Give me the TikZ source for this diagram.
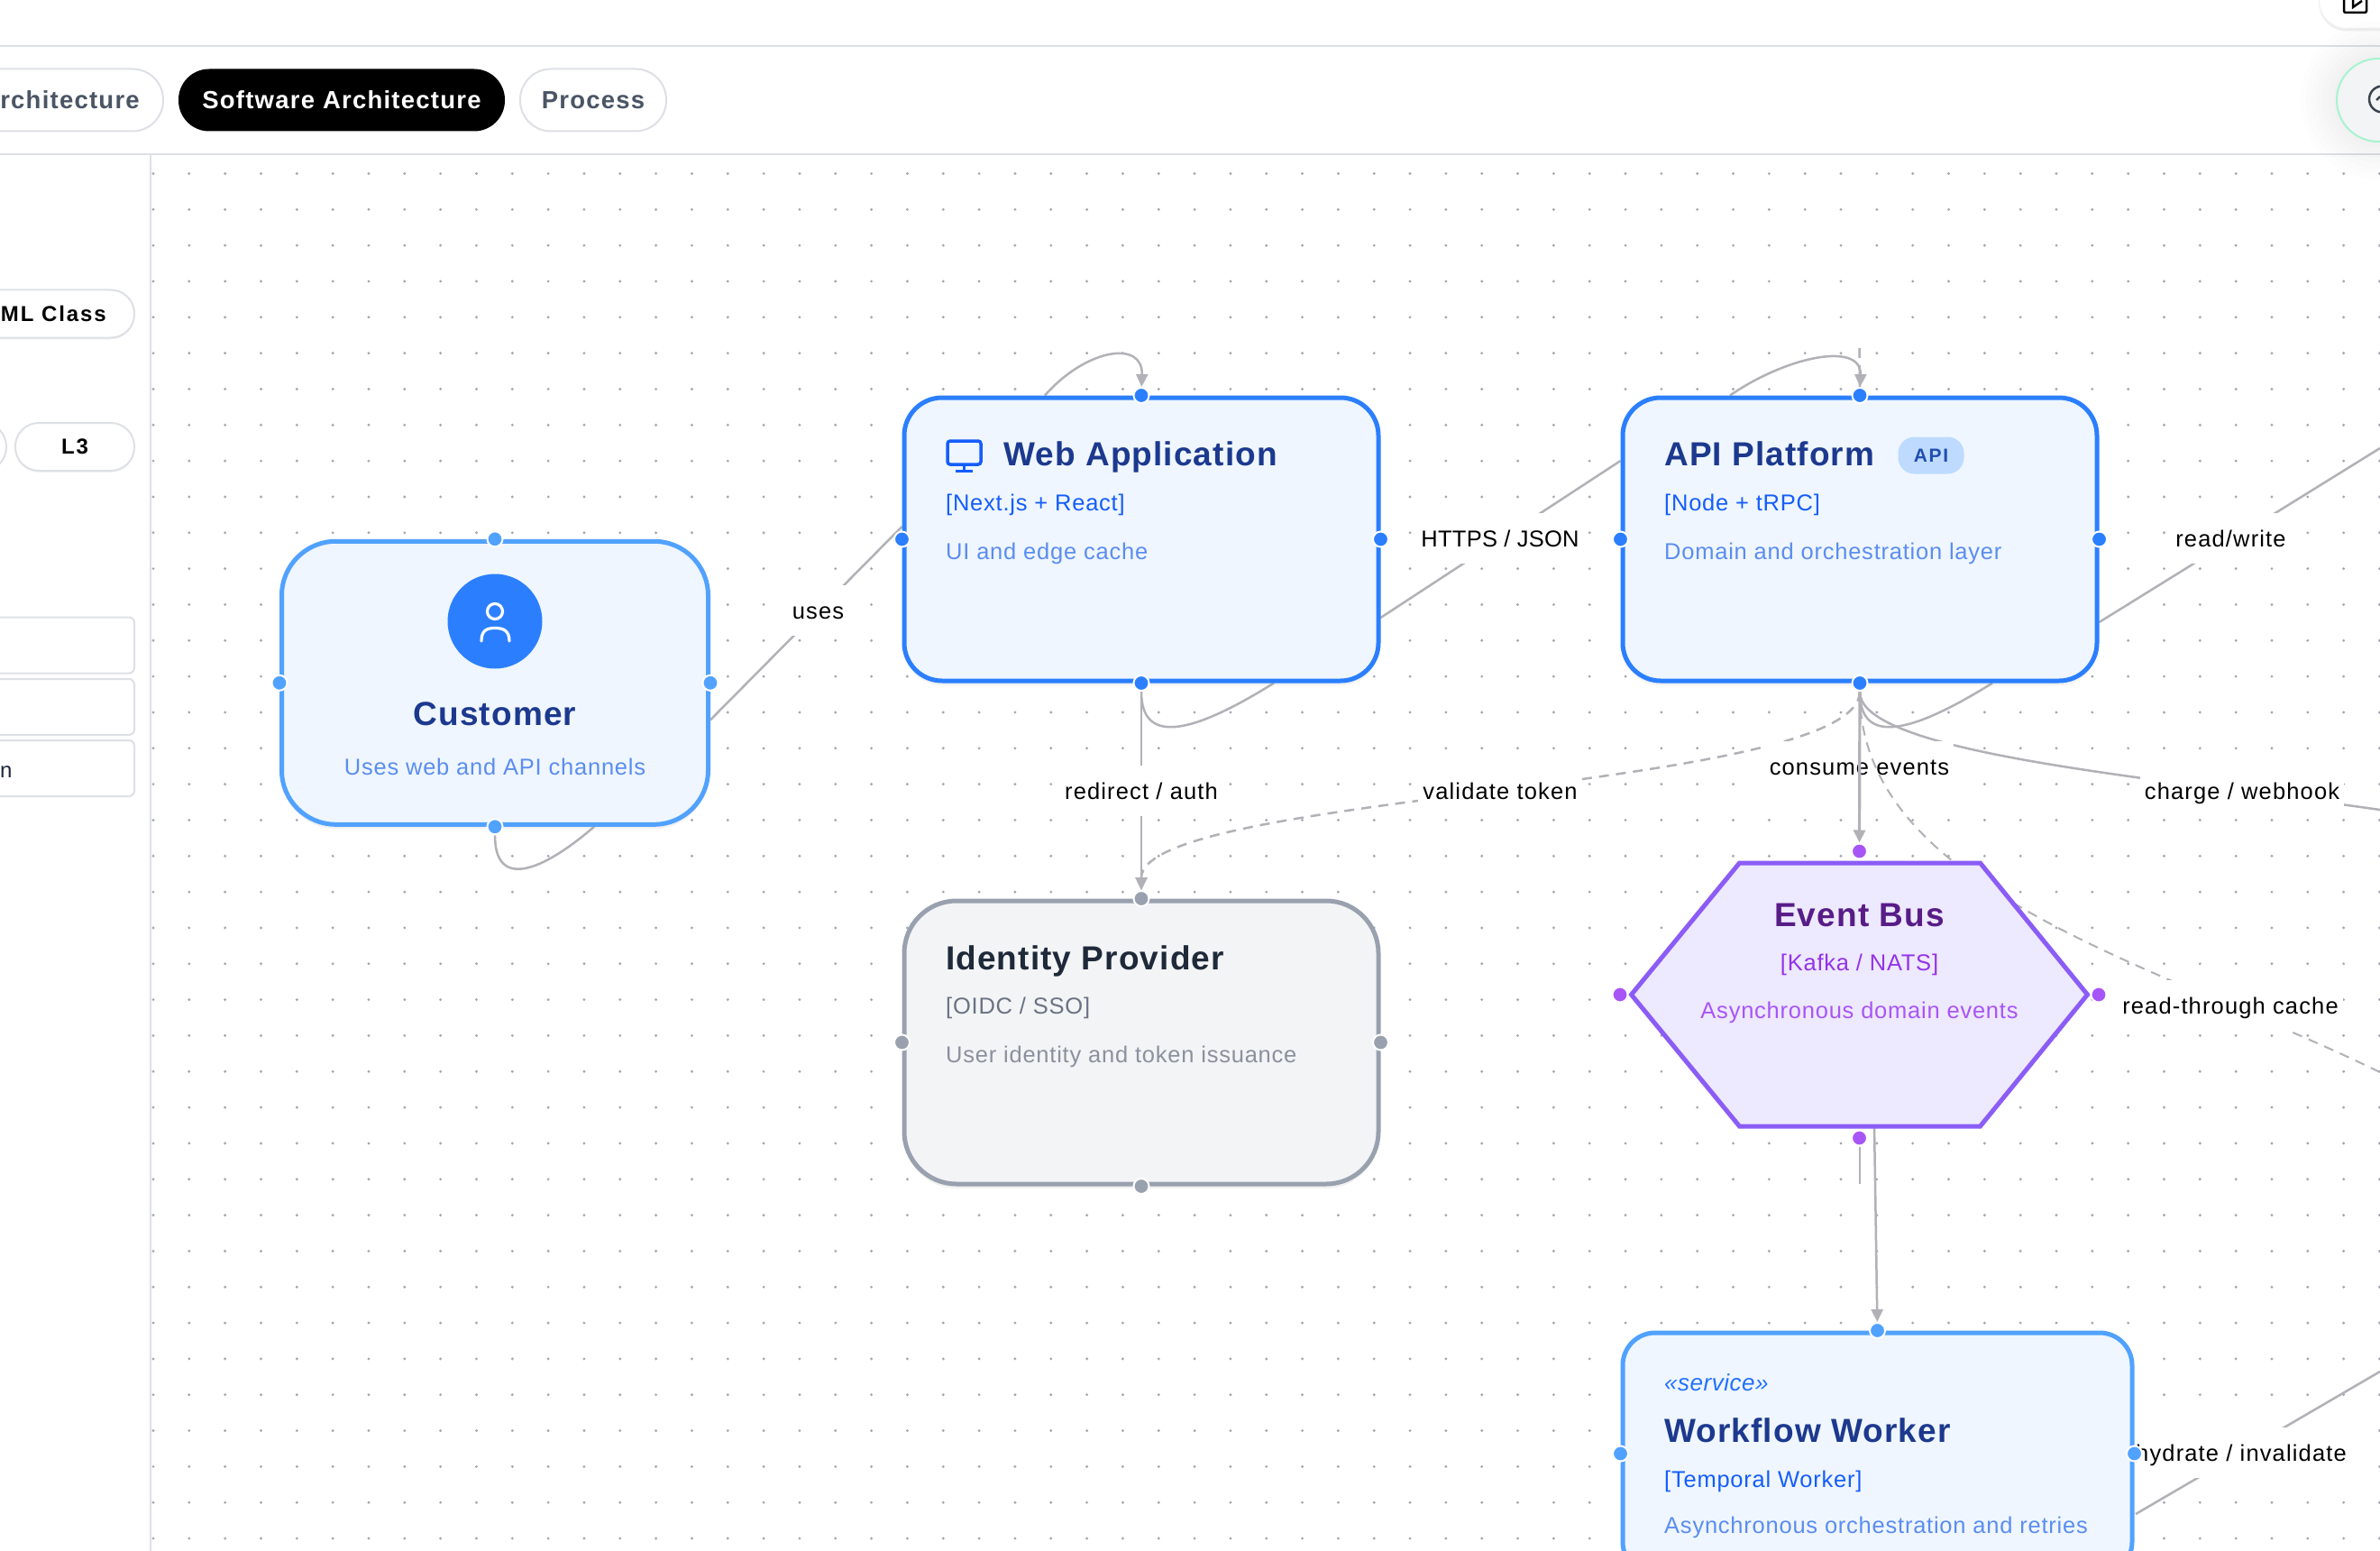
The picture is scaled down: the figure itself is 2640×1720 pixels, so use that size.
\documentclass[tikz,border=0pt]{standalone}
\usepackage{fontspec}
\setmainfont{Liberation Sans}
\usetikzlibrary{arrows.meta,positioning,calc,shadows}

\definecolor{edgegray}{HTML}{B1B1B7}
\definecolor{rulegray}{HTML}{DDE0E5}
\definecolor{dotgray}{HTML}{A3A7B0}
\definecolor{tabgray}{HTML}{4A5565}
\definecolor{bluefill}{HTML}{EFF6FF}
\definecolor{bluemain}{HTML}{2B7FFF}
\definecolor{bluesoft}{HTML}{51A2FF}
\definecolor{bluebadge}{HTML}{BEDBFF}
\definecolor{bluetitle}{HTML}{1C398E}
\definecolor{bluetech}{HTML}{155DFC}
\definecolor{bluedesc}{HTML}{5B8DF0}
\definecolor{grayfill}{HTML}{F3F4F6}
\definecolor{graymain}{HTML}{99A1AF}
\definecolor{graytitle}{HTML}{1E2939}
\definecolor{graytech}{HTML}{6A7282}
\definecolor{graydesc}{HTML}{8A919D}
\definecolor{busfill}{HTML}{EDE9FE}
\definecolor{busmain}{HTML}{8B5CF6}
\definecolor{bustitle}{HTML}{581C87}
\definecolor{bustech}{HTML}{9333EA}
\definecolor{busdesc}{HTML}{A855F7}
\definecolor{mint}{HTML}{A7F3D0}

\newcommand{\spaced}[1]{\addfontfeature{LetterSpace=#1}}

\pgfdeclarelayer{canvas}
\pgfdeclarelayer{edges}
\pgfsetlayers{canvas,edges,main}

\begin{document}
\begin{tikzpicture}[
        x=1pt, y=-1pt,
        box/.style={rectangle, draw, line width=5pt, outer sep=2.5pt, minimum height=314pt, minimum width=526pt,
            drop shadow={opacity=0.10, shadow xshift=0pt, shadow yshift=-5pt}},
        handle/.style={circle, draw=white, line width=2pt, minimum size=17pt, inner sep=0pt, outer sep=1pt},
        arrow/.style={draw=edgegray, line width=2.5pt, -{Triangle[length=14pt,width=13pt]}},
        link/.style={draw=edgegray, line width=2.5pt},
        dashedlink/.style={draw=edgegray, line width=2.5pt, dash pattern=on 11pt off 8pt},
        edgelabel/.style={fill=white, inner xsep=5pt, inner ysep=19pt, text height=18.4pt, text depth=0pt, text=black,
            font=\fontsize{25.5}{30}\selectfont\spaced{4.5}},
        title/.style={inner sep=0pt, text height=26pt, text depth=0pt, font=\fontsize{37}{40}\selectfont\bfseries\spaced{3}},
        tech/.style={inner sep=0pt, text height=18.4pt, text depth=0pt, font=\fontsize{25.5}{30}\selectfont\spaced{3}},
        desc/.style={inner sep=0pt, text height=18.4pt, text depth=0pt, font=\fontsize{25.5}{30}\selectfont\spaced{3}},
        tab/.style={rectangle, rounded corners=34pt, minimum height=69pt, inner sep=0pt, font=\fontsize{27.5}{32}\selectfont\bfseries\spaced{4.5}},
        pill/.style={rectangle, draw=rulegray, fill=white, line width=2pt, rounded corners=26pt, minimum height=53pt, inner sep=0pt,
            font=\fontsize{24}{30}\selectfont\bfseries\spaced{8},
            drop shadow={opacity=0.08, shadow xshift=0pt, shadow yshift=-2pt}},
        field/.style={rectangle, draw=rulegray, fill=white, line width=2pt, rounded corners=6pt, minimum height=62pt, minimum width=200pt, inner sep=0pt}
    ]
    \useasboundingbox (0,0) rectangle (2640,1720);

    % Canvas dots
    \begin{pgfonlayer}{canvas}
    \fill[white] (0,0) rectangle (2640,1720);
    \foreach \i in {0,...,62}
        \foreach \j in {0,...,38}
            \fill[dotgray] (170+\i*39.83,192.5+\j*39.83) circle (1.6);
    \end{pgfonlayer}

    % Main nodes
    \node [box, minimum width=473pt, rounded corners=60pt, draw=bluesoft, fill=bluefill] (customer) at (549,757.3) {};
    \node [box, rounded corners=42pt, draw=bluemain, fill=bluefill] (web) at (1266,598) {};
    \node [box, rounded corners=42pt, draw=bluemain, fill=bluefill, right=266pt of web] (api) {};
    \node [box, rounded corners=58pt, draw=graymain, fill=grayfill, below=239pt of web] (identity) {};
    \node [box, minimum width=565pt, minimum height=268pt, rounded corners=36pt, draw=bluesoft, fill=bluefill] (worker) at (2082.5,1612) {};
    \coordinate (bus) at (2062.5,1103);
    \draw [line width=5pt, line join=miter, draw=busmain, fill=busfill]
        ($(bus)+(-253,0)$) -- ($(bus)+(-133,-146)$) -- ($(bus)+(134,-146)$) -- ($(bus)+(253,0)$) -- ($(bus)+(134,146)$) -- ($(bus)+(-133,146)$) -- cycle;

    % Handles
    \foreach \a/\b in {north/n,south/s,east/e,west/w} {
        \node [handle, fill=bluesoft] (customer-\b) at (customer.\a) {};
        \node [handle, fill=bluemain] (web-\b) at (web.\a) {};
        \node [handle, fill=bluemain] (api-\b) at (api.\a) {};
        \node [handle, fill=graymain] (identity-\b) at (identity.\a) {};
    }
    \foreach \a/\b in {north/n,east/e,west/w}
        \node [handle, fill=bluesoft] (worker-\b) at (worker.\a) {};
    \node [handle, fill=busdesc] (bus-n) at ($(bus)+(0,-159)$) {};
    \node [handle, fill=busdesc] (bus-s) at ($(bus)+(0,159)$) {};
    \node [handle, fill=busdesc] (bus-e) at ($(bus)+(265.5,0)$) {};
    \node [handle, fill=busdesc] (bus-w) at ($(bus)+(-265.5,0)$) {};

    % Free ends of the edges
    \coordinate (usesfrom) at ($(customer.east)+(0,41)$);
    \coordinate (usesto) at ($(web.west)+(0,-14)$);
    \coordinate (httpsfrom) at ($(web.east)+(0,87)$);
    \coordinate (httpsto) at ($(api.west)+(0,-87)$);
    \coordinate (readfrom) at ($(api.east)+(0,92)$);
    \coordinate (readto) at (2640,497);
    \coordinate (chargeto) at (2912,986);
    \coordinate (cacheto) at (2886,1462);
    \coordinate (hydratefrom) at (2369,1679);
    \coordinate (hydrateto) at (2640,1521);
    \coordinate (bustop) at (2062.5,386);
    \coordinate (busdrop) at (2062.5,1313);
    \coordinate (busout) at (2079,1246);

    \begin{pgfonlayer}{edges}
    % Self loops
    \path [link] (customer-s) .. controls ($(customer-s)+(0,70)$) and ($(customer-s)+(52,50)$) .. ($(customer.south)+(110,0)$);
    \path [link] (web-s) .. controls ($(web-s)+(0,68)$) and ($(web-s)+(54,58)$) .. ($(web.south)+(147,0)$);
    \path [link] (api-s) .. controls ($(api-s)+(0,68)$) and ($(api-s)+(54,58)$) .. ($(api.south)+(147,0)$);
    \path [arrow] ($(web.north)+(-107,0)$) .. controls ($(web.north)+(-61,-52)$) and ($(web.north)+(2,-62)$) .. (web-n);
    \path [arrow] ($(api.north)+(-144,0)$) .. controls ($(api.north)+(-80,-44)$) and ($(api.north)+(2,-60)$) .. (api-n);

    % Edges with their labels
    \path [link] (usesfrom) -- (usesto);
    \node [edgelabel] (uses) at (907.5,677) {uses};
    \path [link] (httpsfrom) -- (httpsto);
    \node [edgelabel, font=\fontsize{25.5}{30}\selectfont\spaced{1}] (https) at (1664,597) {HTTPS / JSON};
    \path [link] (readfrom) -- (readto);
    \node [edgelabel] (readwrite) at (2474.5,597) {read/write};
    \path [arrow] (web-s) -- (identity-n);
    \node [edgelabel] (redirect) at (1266,877) {redirect / auth};
    \path [dashedlink, -{Triangle[length=14pt,width=13pt]}] (api-s) .. controls (2062.5,878) and (1266,878) .. (identity-n);
    \node [edgelabel] (validate) at (1664,877) {validate token};
    \path [link] (api-s) .. controls (2062.5,878) and (2912,878) .. (chargeto);
    \node [edgelabel] (charge) at (2487,877) {charge / webhook};
    \path [link] (hydratefrom) -- (hydrateto);
    \node [edgelabel] (hydrate) at (2486,1611) {hydrate / invalidate};
    \path [link, line width=2pt] (bus-s) -- (busdrop);
    \node [edgelabel] (consume) at (2062.5,850) {consume events};
    \path [dashedlink, line width=2pt] (api-s) .. controls (2062.5,1116) and (2886,1116) .. (cacheto);
    \node [edgelabel] (cache) at (2474,1115.5) {read-through cache};
    \path [arrow, line width=3.2pt] (api-s) -- (bus-n);
    \path [arrow] (busout) -- (worker-n);
    \path [dashedlink] (bustop) -- (api-n);
    \end{pgfonlayer}

    % Customer
    \node [circle, fill=bluemain, minimum size=105pt, inner sep=0pt] (avatar) at (549,689) {};
    \draw [white, line width=3.2pt] (549,678) circle (8.5);
    \draw [white, line width=3.2pt, line cap=round] (534,711) .. controls (534,699) and (540,696.5) .. (549,696.5) .. controls (558,696.5) and (565,699) .. (565,711);
    \node [title, text=bluetitle] (customername) at (549,791) {Customer};
    \node [desc, text=bluedesc] (customerdesc) at (549,850) {Uses web and API channels};

    % Web application
    \draw [bluetech, line width=3.5pt, rounded corners=3pt] (1051,489) rectangle (1088,515);
    \draw [bluetech, line width=3.5pt] (1069.5,515) -- (1069.5,522) (1060,522.5) -- (1079,522.5);
    \node [title, text=bluetitle, anchor=west] (webname) at (1113,503) {Web Application};
    \node [tech, text=bluetech, anchor=west] (webtech) at (1049,557) {[Next.js + React]};
    \node [desc, text=bluedesc, anchor=west] (webdesc) at (1049,611) {UI and edge cache};

    % API platform
    \node [title, text=bluetitle, anchor=west] (apiname) at (1846,503) {API Platform};
    \node [rectangle, fill=bluebadge, rounded corners=18pt, minimum width=73pt, minimum height=41pt, inner sep=0pt, text=bluetitle!70!bluemain,
        font=\fontsize{21}{24}\selectfont\bfseries\spaced{8}] (apibadge) at (2142,505) {API};
    \node [tech, text=bluetech, anchor=west] (apitech) at (1846,557) {[Node + tRPC]};
    \node [desc, text=bluedesc, anchor=west] (apidesc) at (1846,611) {Domain and orchestration layer};

    % Identity provider
    \node [title, text=graytitle, anchor=west] (idname) at (1049,1062) {Identity Provider};
    \node [tech, text=graytech, anchor=west] (idtech) at (1049,1115.5) {[OIDC / SSO]};
    \node [desc, text=graydesc, anchor=west] (iddesc) at (1049,1169) {User identity and token issuance};

    % Event bus
    \node [title, text=bustitle] (busname) at (2062.5,1014) {Event Bus};
    \node [tech, text=bustech] (bustechname) at (2062.5,1067.5) {[Kafka / NATS]};
    \node [desc, text=busdesc] (busdescname) at (2062.5,1120.5) {Asynchronous domain events};

    % Workflow worker
    \node [tech, text=bluetech!40!bluemain, anchor=west, font=\fontsize{26}{30}\selectfont\itshape\spaced{2}] (workerkind) at (1846,1533) {«service»};
    \node [title, text=bluetitle, anchor=west] (workername) at (1846,1586) {Workflow Worker};
    \node [tech, text=bluetech, anchor=west] (workertech) at (1846,1640.5) {[Temporal Worker]};
    \node [desc, text=bluedesc, anchor=west] (workerdesc) at (1846,1691) {Asynchronous orchestration and retries};

    % Header and sidebar
    \draw [rulegray, line width=2.5pt] (0,51) -- (2640,51) (0,171) -- (2640,171) (167,171) -- (167,1720);
    \node [tab, draw=rulegray, line width=2pt, fill=white, minimum width=340pt] (tabarch) at (11,111) {};
    \node [tab, text=tabgray, anchor=east] (tabarchtext) at (155,111) {rchitecture};
    \node [tab, fill=black, text=white, minimum width=362pt] (tabsoftware) at (379,111) {Software Architecture};
    \node [tab, draw=rulegray, line width=2pt, fill=white, text=tabgray, minimum width=162pt] (tabprocess) at (658,111) {Process};
    \node [pill, minimum width=280pt] (pilluml) at (9,348) {};
    \node [anchor=east, inner sep=0pt, font=\fontsize{24}{30}\selectfont\bfseries\spaced{8}] (pillumltext) at (118,348) {ML Class};
    \node [pill, minimum width=132pt] (pilll3) at (83,495.5) {L3};
    \node [pill, minimum width=100pt] (pillprev) at (-43,495.5) {};
    \node [field] (fieldone) at (49,715.5) {};
    \node [field] (fieldtwo) at (49,784) {};
    \node [field] (fieldthree) at (49,852) {};
    \node [anchor=west, inner sep=0pt, text=graytitle, text height=18.4pt, text depth=0pt, font=\fontsize{24}{30}\selectfont] (fieldtext) at (0,853) {n};

    % Top right buttons
    \node [rectangle, rounded corners=30pt, draw=black!6, fill=white, line width=1pt, minimum width=140pt, minimum height=100pt, anchor=south west,
        drop shadow={opacity=0.12, shadow xshift=0pt, shadow yshift=-3pt}] (sharebtn) at (2572,32) {};
    \draw [black, line width=2.5pt, rounded corners=2pt] (2600,-5) -- (2600,14) -- (2625,14) -- (2625,-5);
    \draw [black, line width=2.5pt] (2610,-2) -- (2610,8) -- (2620,1);
    \foreach \r in {52,58,...,88}
        \fill [black, opacity=0.006] (2640,111) circle (\r);
    \node [circle, draw=mint, fill=grayfill, line width=2pt, minimum size=92pt, inner sep=0pt] (statusbtn) at (2638,111) {};
    \draw [graytitle!70!gray, line width=2.5pt] (2642.5,110) circle (14.5);
    \draw [graytitle!70!gray, line width=2.5pt] (2636,111) -- (2640,107);
\end{tikzpicture}
\end{document}
